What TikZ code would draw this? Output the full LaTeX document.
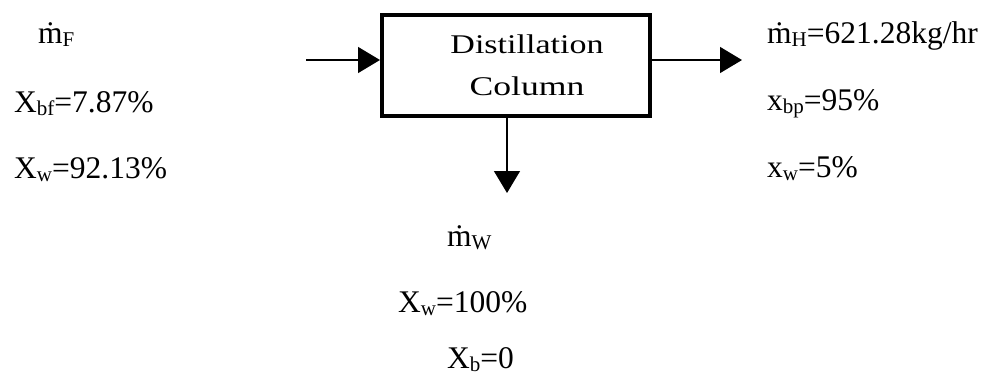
\documentclass[tikz,border=0pt]{standalone}
\usepackage{graphicx}
\usepackage{fontspec}
\setmainfont{Liberation Serif}
\usetikzlibrary{arrows.meta}
\newcommand\sbs[1]{\raisebox{-0.1em}{\fontsize{21}{21}\selectfont #1}}
\newcommand\mdot{\.{m}}
\tikzset{
  lbl/.style={anchor=base west, inner sep=0pt, font=\fontsize{31.5}{35}\selectfont},
  unitbox/.style={draw, line width=4pt, minimum width=268pt, minimum height=101pt, inner sep=0pt},
  flow/.style={line width=1.5pt, -{Triangle[length=22pt,width=26pt]}},
}
\begin{document}
\begin{tikzpicture}[x=1pt,y=-1pt]
\useasboundingbox (0,0) rectangle (982,384);
\node[unitbox] (box) at (516,65.5) {};
\node[font=\fontsize{27}{42}\selectfont, align=center, anchor=base, inner sep=0pt] (boxtxt) at (527,95) {\scalebox{1.26}[1]{Distillation}\\\scalebox{1.32}[1]{Column}};
\coordinate (fin) at (306,60);
\coordinate (hout) at (742,60);
\coordinate (wout) at (507,193);
\draw[flow] (fin) -- (fin -| box.west);
\draw[flow] (box.east |- hout) -- (hout);
\draw[flow] (box.south -| wout) -- (wout);
\node[lbl] (mf) at (38,43) {\mdot\sbs{F}};
\node[lbl] (xbf) at (14,112) {X\sbs{bf}=7.87\%};
\node[lbl] (xwf) at (14,178) {X\sbs{w}=92.13\%};
\node[lbl] (mh) at (767,43) {\mdot\sbs{H}=621.28kg/hr};
\node[lbl] (xbp) at (767,110) {x\sbs{bp}=95\%};
\node[lbl] (xwp) at (767,177) {x\sbs{w}=5\%};
\node[lbl] (mw) at (447,246) {\mdot\sbs{W}};
\node[lbl] (xww) at (398,312) {X\sbs{w}=100\%};
\node[lbl] (xbw) at (447,368) {X\sbs{b}=0};
\end{tikzpicture}
\end{document}
